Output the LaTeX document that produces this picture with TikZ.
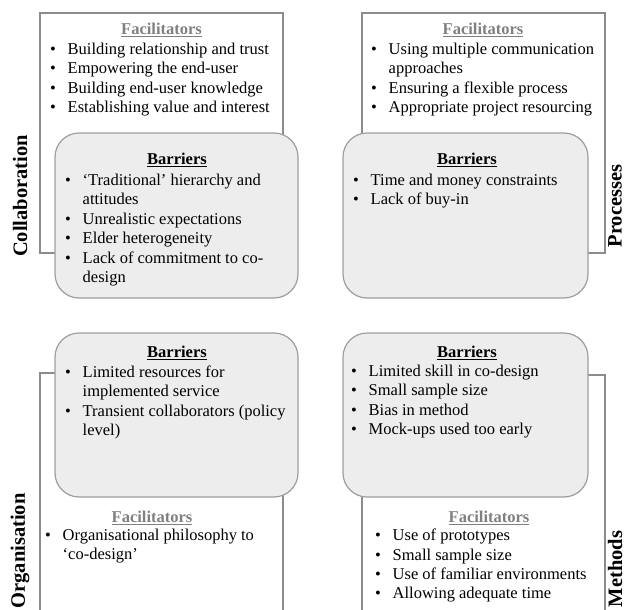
\documentclass[tikz,border=0pt]{standalone}
\usepackage{fontspec}
\setmainfont{Liberation Serif}
\usepackage{array}
\usetikzlibrary{positioning}
\definecolor{boxgray}{HTML}{8C8C8C}
\definecolor{bargray}{HTML}{9E9E9E}
\definecolor{barfill}{HTML}{EDEDED}
\definecolor{facgray}{HTML}{808080}
\newcommand{\itemlist}[1]{\begin{tabular}{@{}p{17.5pt}@{}>{\raggedright\arraybackslash}p{230pt}@{}}#1\end{tabular}}

\begin{document}
\begin{tikzpicture}[x=1pt, y=-1pt,
    facbox/.style = {draw=boxgray, line width=1.2pt, minimum width=243pt, inner sep=0pt},
    barbox/.style = {draw=bargray, fill=barfill, line width=1.2pt, rounded corners=24pt,
                     minimum height=165pt, inner sep=0pt},
    factitle/.style = {font=\fontsize{16.5}{19.4}\selectfont\bfseries, text=facgray, anchor=base, inner sep=0pt},
    bartitle/.style = {font=\fontsize{16.5}{19.4}\selectfont\bfseries, anchor=base, inner sep=0pt},
    items/.style = {font=\fontsize{16.5}{19.4}\selectfont, anchor=north west, inner sep=0pt},
    side/.style = {font=\fontsize{20.5}{24}\selectfont\bfseries, rotate=90, inner sep=0pt}]
    \useasboundingbox (0,0) rectangle (627,610);
    \clip (0,0) rectangle (627,610);

    % boxes
    \node[facbox, minimum height=240pt] (fac1) at (161.5,133) {};
    \node[barbox, minimum width=243pt] (bar1) at (176.5,215.5) {};
    \node[facbox, minimum height=240pt] (fac2) at (483.5,133) {};
    \node[barbox, minimum width=245pt] (bar2) at (465.5,215.5) {};
    \node[facbox, minimum height=270pt] (fac3) at (161.5,508) {};
    \node[barbox, minimum width=243pt, minimum height=164pt] (bar3) at (176.5,415) {};
    \node[facbox, minimum height=270pt] (fac4) at (483.5,510) {};
    \node[barbox, minimum width=245pt, minimum height=164pt] (bar4) at (465.5,415) {};

    % collaboration
    \node[factitle] (fac1t) at (161.5,34.5) {\underline{Facilitators}};
    \node[items] (fac1l) at (50,40.8) {\itemlist{
        \textbullet & Building relationship and trust \\
        \textbullet & Empowering the end-user \\
        \textbullet & Building end-user knowledge \\
        \textbullet & Establishing value and interest \\}};
    \node[bartitle] (bar1t) at (177,164.5) {\underline{Barriers}};
    \node[items] (bar1l) at (65,171.8) {\itemlist{
        \textbullet & `Traditional' hierarchy and\newline attitudes \\
        \textbullet & Unrealistic expectations \\
        \textbullet & Elder heterogeneity \\
        \textbullet & Lack of commitment to co-\newline design \\}};

    % processes
    \node[factitle] (fac2t) at (483,34.5) {\underline{Facilitators}};
    \node[items] (fac2l) at (371,40.8) {\itemlist{
        \textbullet & Using multiple communication\newline approaches \\
        \textbullet & Ensuring a flexible process \\
        \textbullet & Appropriate project resourcing \\}};
    \node[bartitle] (bar2t) at (467,164.5) {\underline{Barriers}};
    \node[items] (bar2l) at (353,171.8) {\itemlist{
        \textbullet & Time and money constraints \\
        \textbullet & Lack of buy-in \\}};

    % organisation
    \node[bartitle] (bar3t) at (177,357.5) {\underline{Barriers}};
    \node[items] (bar3l) at (65,363.8) {\itemlist{
        \textbullet & Limited resources for\newline implemented service \\
        \textbullet & Transient collaborators (policy\newline level) \\}};
    \node[factitle] (fac3t) at (152,522.5) {\underline{Facilitators}};
    \node[items] (fac3l) at (45,526.8) {\itemlist{
        \textbullet & Organisational philosophy to\newline `co-design' \\}};

    % methods
    \node[bartitle] (bar4t) at (467,357.5) {\underline{Barriers}};
    \node[items] (bar4l) at (351,362.5) {\itemlist{
        \textbullet & Limited skill in co-design \\
        \textbullet & Small sample size \\
        \textbullet & Bias in method \\
        \textbullet & Mock-ups used too early \\}};
    \node[factitle] (fac4t) at (489,522.5) {\underline{Facilitators}};
    \node[items] (fac4l) at (375,527) {\itemlist{
        \textbullet & Use of prototypes \\
        \textbullet & Small sample size \\
        \textbullet & Use of familiar environments \\
        \textbullet & Allowing adequate time \\}};

    % side labels
    \node[side] (collab) at (20,196) {Collaboration};
    \node[side] (proc) at (615,206) {Processes};
    \node[side] (org) at (20,551) {Organisation};
    \node[side] (meth) at (615,569) {Methods};
\end{tikzpicture}
\end{document}
